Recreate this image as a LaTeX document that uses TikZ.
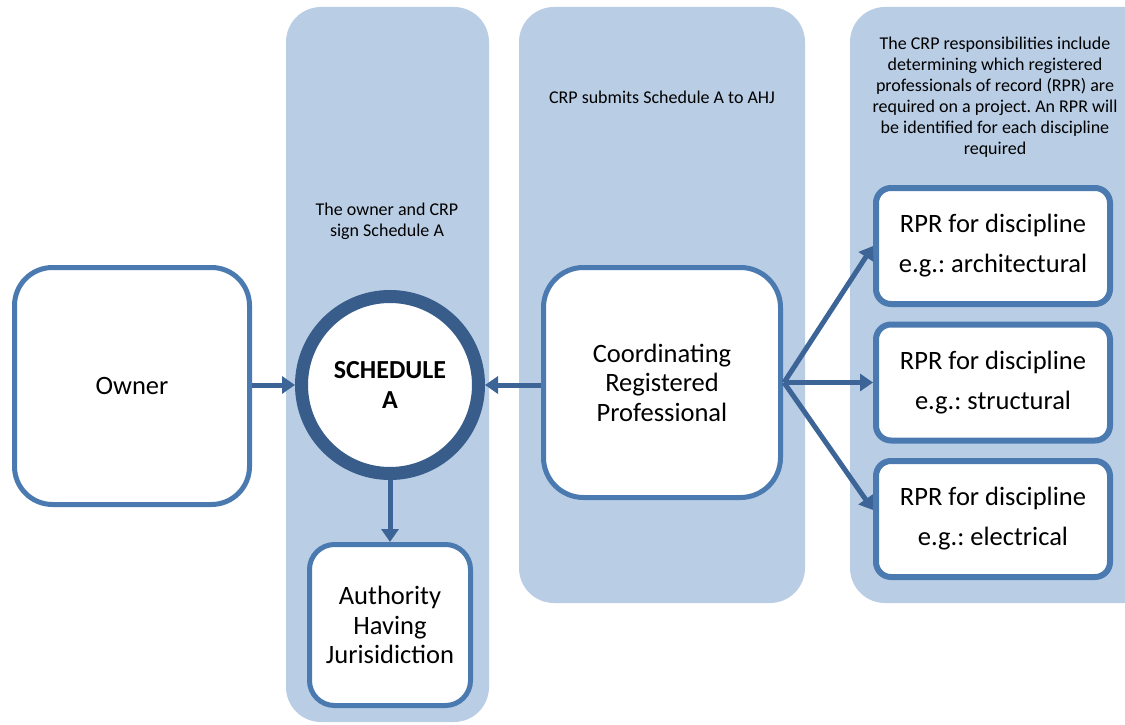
\documentclass[tikz,border=0pt]{standalone}
\usepackage{fontspec}
\setmainfont{Carlito}
\frenchspacing
\usetikzlibrary{arrows.meta,calc}
\definecolor{panelblue}{HTML}{B9CDE5}
\definecolor{boxline}{HTML}{4A7AB0}
\definecolor{ringline}{HTML}{385D8A}
\definecolor{arrowline}{HTML}{3C6496}
\tikzset{
  panel/.style={fill=panelblue, rounded corners=35pt},
  boxnode/.style={draw=boxline, fill=white, line width=5pt, align=center,
    font=\fontsize{26.5}{29.5}\selectfont, inner sep=0pt},
  rprbox/.style={boxnode, line width=6pt, rounded corners=15pt,
    minimum width=234pt, minimum height=116pt, font=\fontsize{26.5}{40}\selectfont},
  note/.style={align=center, font=\fontsize{18}{21}\selectfont, inner sep=0pt},
  conn/.style={draw=arrowline, line width=5pt,
    -{Triangle[length=13pt,width=17pt]}},
}
\begin{document}
\begin{tikzpicture}[x=1pt,y=-1pt]
\useasboundingbox (0,0) rectangle (1125,725);
\clip (0,0) rectangle (1125,725);
% panels
\fill[panel] (286,7) rectangle (489,722);
\fill[panel] (519,7) rectangle (805,603);
\fill[panel] (850,7) rectangle (1170,603);
% panel notes
\node[note] (n1) at (387,221) {The owner and CRP\\sign Schedule A};
\node[note] (n2) at (662,97) {CRP submits Schedule A to AHJ};
\node[note] (n3) at (995,97) {The CRP responsibilities include\\determining which registered\\professionals of record (RPR) are\\required on a project. An RPR will\\be identified for each discipline\\required};
% boxes
\node[boxnode, rounded corners=38pt, minimum width=235pt, minimum height=237pt] (owner) at (132,386) {Owner};
\node[boxnode, rounded corners=40pt, minimum width=237pt, minimum height=230pt] (crp) at (662,382.5) {Coordinating\\Registered\\Professional};
\node[boxnode, rounded corners=25pt, minimum width=161pt, minimum height=161pt] (ahj) at (390,625) {Authority\\Having\\Jurisidiction};
\node[circle, draw=ringline, fill=white, line width=13pt, minimum size=177pt, inner sep=0pt,
  align=center, font=\bfseries\fontsize{26}{30}\selectfont] (sched) at (390,385) {SCHEDULE\\A};
\node[rprbox] (rpr1) at (993,246) {RPR for discipline\\e.g.: architectural};
\node[rprbox] (rpr2) at (993,382.5) {RPR for discipline\\e.g.: structural};
\node[rprbox] (rpr3) at (993,519) {RPR for discipline\\e.g.: electrical};
% connectors
\coordinate (fan) at (784,382.5);
\draw[conn] (sched.west -| owner.east) -- (sched.west);
\draw[conn] (sched.east -| crp.west) -- (sched.east);
\draw[conn] (sched.south) -- (ahj.north);
\draw[conn] (fan) -- (rpr1.west);
\draw[conn] (fan) -- (rpr2.west);
\draw[conn] (fan) -- ([yshift=9pt]rpr3.west);
\end{tikzpicture}
\end{document}
